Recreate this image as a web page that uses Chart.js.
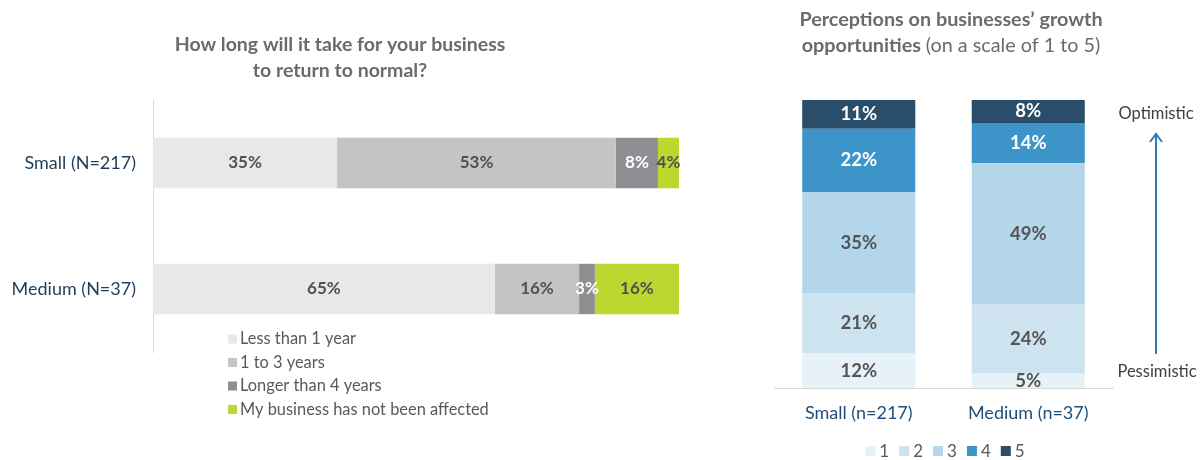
<!DOCTYPE html>
<html>
<head>
<meta charset="utf-8">
<title>Business recovery and growth outlook</title>
<script src="https://cdn.jsdelivr.net/npm/chart.js@4.4.1/dist/chart.umd.min.js"></script>
<style>
  html, body { margin: 0; padding: 0; background: #ffffff; }
  #wrap { position: relative; width: 1202px; height: 460px; overflow: hidden; }
  #recovery { position: absolute; left: 0; top: 0; }
  #growth { position: absolute; left: 720px; top: 0; }
</style>
</head>
<body>
<div id="wrap">
  <canvas id="recovery" width="720" height="460"></canvas>
  <canvas id="growth" width="482" height="460"></canvas>
</div>
<script>
// ---- Recovery time by business size (% of respondents) ----
const recoveryCategories = ['Small (N=217)', 'Medium (N=37)'];
const recoverySeries = ['Less than 1 year', '1 to 3 years', 'Longer than 4 years', 'My business has not been affected'];
const lessThan1Year = [35, 65];
const oneTo3Years = [53, 16];
const longerThan4Years = [8, 3];
const notAffected = [4, 16];

// ---- Growth opportunity ratings, 1 (pessimistic) to 5 (optimistic) ----
const growthCategories = ['Small (n=217)', 'Medium (n=37)'];
const growthScale = ['1', '2', '3', '4', '5'];
const score1 = [12, 5];
const score2 = [21, 24];
const score3 = [35, 49];
const score4 = [22, 14];
const score5 = [11, 8];

const FONT = 'Lato, "Open Sans", "DejaVu Sans", sans-serif';
const TITLE_GRAY = '#6b6b6b';
const TEXT_GRAY = '#595959';

// Writes each segment's value in the middle of its bar
const segmentLabels = {
  id: 'segmentLabels',
  afterDatasetsDraw(chart, args, opts) {
    const ctx = chart.ctx;
    ctx.save();
    ctx.font = `bold ${opts.size}px ${FONT}`;
    ctx.textAlign = 'center';
    ctx.textBaseline = 'middle';
    chart.data.datasets.forEach((ds, i) => {
      const meta = chart.getDatasetMeta(i);
      meta.data.forEach((el, j) => {
        const v = ds.data[j];
        if (v == null) return;
        const props = el.getProps(['x', 'y', 'base', 'horizontal'], true);
        let cx, cy;
        if (props.horizontal) {
          cx = (props.x + props.base) / 2; cy = props.y;
        } else {
          const top = Math.max(props.y, chart.chartArea.top);
          cx = props.x; cy = (top + props.base) / 2;
        }
        ctx.fillStyle = ds.labelColor;
        ctx.fillText(v + '%', cx, cy + (opts.dy || 0));
      });
    });
    ctx.restore();
  }
};

// Centered title lines; each line is a list of [text, weight] runs
const titleLines = {
  id: 'titleLines',
  afterDraw(chart, args, opts) {
    const ctx = chart.ctx;
    ctx.save();
    ctx.fillStyle = TITLE_GRAY;
    ctx.textBaseline = 'middle';
    ctx.textAlign = 'left';
    opts.lines.forEach(line => {
      let total = 0;
      line.runs.forEach(r => { ctx.font = `${r[1]} ${opts.size}px ${FONT}`; total += ctx.measureText(r[0]).width; });
      let x = opts.cx - total / 2;
      line.runs.forEach(r => {
        ctx.font = `${r[1]} ${opts.size}px ${FONT}`;
        ctx.fillText(r[0], x, line.y);
        x += ctx.measureText(r[0]).width;
      });
    });
    ctx.restore();
  }
};

// Vertical legend list under the horizontal bars
const stackedLegend = {
  id: 'stackedLegend',
  afterDraw(chart, args, opts) {
    const ctx = chart.ctx;
    ctx.save();
    ctx.font = `${opts.size}px ${FONT}`;
    ctx.textBaseline = 'middle';
    ctx.textAlign = 'left';
    chart.data.datasets.forEach((ds, i) => {
      const y = opts.y + i * opts.step;
      ctx.fillStyle = ds.backgroundColor;
      ctx.fillRect(opts.x, y - opts.box / 2, opts.box, opts.box);
      ctx.fillStyle = TEXT_GRAY;
      ctx.fillText(ds.label, opts.x + opts.box + 3, y);
    });
    ctx.restore();
  }
};

// Horizontal legend row, centered
const rowLegend = {
  id: 'rowLegend',
  afterDraw(chart, args, opts) {
    const ctx = chart.ctx;
    ctx.save();
    ctx.font = `${opts.size}px ${FONT}`;
    ctx.textBaseline = 'middle';
    ctx.textAlign = 'left';
    const items = chart.data.datasets.map(ds => ({ ds, w: opts.box + 4 + ctx.measureText(ds.label).width }));
    const total = items.reduce((s, it) => s + it.w, 0) + opts.gap * (items.length - 1);
    let x = opts.cx - total / 2;
    items.forEach(it => {
      ctx.fillStyle = it.ds.backgroundColor;
      ctx.fillRect(x, opts.y - opts.box / 2, opts.box, opts.box);
      ctx.fillStyle = TEXT_GRAY;
      ctx.fillText(it.ds.label, x + opts.box + 4, opts.y + 1);
      x += it.w + opts.gap;
    });
    ctx.restore();
  }
};

// Optimistic / Pessimistic direction arrow beside the columns
const sentimentArrow = {
  id: 'sentimentArrow',
  afterDraw(chart, args, opts) {
    const ctx = chart.ctx;
    ctx.save();
    ctx.strokeStyle = '#2f7bb3';
    ctx.lineWidth = 2;
    ctx.beginPath();
    ctx.moveTo(opts.x, opts.yTop);
    ctx.lineTo(opts.x, opts.yBottom);
    ctx.moveTo(opts.x - 6, opts.yTop + 9);
    ctx.lineTo(opts.x, opts.yTop + 1);
    ctx.lineTo(opts.x + 6, opts.yTop + 9);
    ctx.stroke();
    ctx.fillStyle = '#404040';
    ctx.font = `16.5px ${FONT}`;
    ctx.textAlign = 'center';
    ctx.textBaseline = 'middle';
    ctx.fillText('Optimistic', opts.x, opts.yTop - 19);
    ctx.fillText('Pessimistic', opts.x + 1, opts.yBottom + 18);
    ctx.restore();
  }
};

const recoveryColors = ['#e7e8e8', '#c4c4c4', '#8e8e93', '#bed630'];
const recoveryLabelColors = ['#505050', '#505050', '#ffffff', '#505050'];
const recoveryValues = [lessThan1Year, oneTo3Years, longerThan4Years, notAffected];

new Chart(document.getElementById('recovery'), {
  type: 'bar',
  data: {
    labels: recoveryCategories,
    datasets: recoverySeries.map((name, i) => ({
      label: name,
      data: recoveryValues[i],
      backgroundColor: recoveryColors[i],
      labelColor: recoveryLabelColors[i],
      borderWidth: 0,
      barPercentage: 0.4,
      categoryPercentage: 1
    }))
  },
  options: {
    indexAxis: 'y',
    responsive: false,
    animation: false,
    layout: { padding: { top: 100, right: 41, bottom: 108, left: 0 } },
    scales: {
      x: { stacked: true, min: 0, max: 100, display: false },
      y: {
        stacked: true,
        afterFit(scale) { scale.width = 153; },
        grid: { display: false, drawTicks: false },
        border: { display: true, color: '#d9d9d9', width: 1 },
        ticks: { color: '#1f3b5a', font: { family: FONT, size: 18 }, padding: 17 }
      }
    },
    plugins: {
      legend: { display: false },
      tooltip: { enabled: false },
      segmentLabels: { size: 17 },
      titleLines: {
        cx: 340, size: 19.5,
        lines: [
          { y: 45, runs: [['How long will it take for your business', 'bold']] },
          { y: 71, runs: [['to return to normal?', 'bold']] }
        ]
      },
      stackedLegend: { x: 228, y: 339, step: 23.5, box: 9, size: 16.4 }
    }
  },
  plugins: [segmentLabels, titleLines, stackedLegend]
});

const growthColors = ['#e6f2f8', '#cde3ef', '#b4d6ea', '#3d94c9', '#2a4d69'];
const growthLabelColors = ['#555555', '#555555', '#555555', '#ffffff', '#ffffff'];
const growthValues = [score1, score2, score3, score4, score5];

new Chart(document.getElementById('growth'), {
  type: 'bar',
  data: {
    labels: growthCategories,
    datasets: growthScale.map((name, i) => ({
      label: name,
      data: growthValues[i],
      backgroundColor: growthColors[i],
      labelColor: growthLabelColors[i],
      borderWidth: 0,
      barPercentage: 0.667,
      categoryPercentage: 1,
      clip: 0
    }))
  },
  options: {
    responsive: false,
    animation: false,
    layout: { padding: { top: 100, right: 89, bottom: 0, left: 54 } },
    scales: {
      y: { stacked: true, min: 0, max: 100, display: false },
      x: {
        stacked: true,
        afterFit(scale) { scale.height = 72; },
        grid: { display: false, drawTicks: false },
        border: { display: true, color: '#d9d9d9', width: 1 },
        ticks: { color: '#1f4e79', font: { family: FONT, size: 18 }, padding: 14 }
      }
    },
    plugins: {
      legend: { display: false },
      tooltip: { enabled: false },
      segmentLabels: { size: 18.5 },
      titleLines: {
        cx: 231, size: 19.8,
        lines: [
          { y: 20, runs: [['Perceptions on businesses\u2019 growth', 'bold']] },
          { y: 46, runs: [['opportunities ', 'bold'], ['(on a scale of 1 to 5)', 'normal']] }
        ]
      },
      rowLegend: { cx: 225, y: 451, box: 10, gap: 10, size: 17 },
      sentimentArrow: { x: 436, yTop: 133, yBottom: 354 }
    }
  },
  plugins: [segmentLabels, titleLines, rowLegend, sentimentArrow]
});
</script>
</body>
</html>
